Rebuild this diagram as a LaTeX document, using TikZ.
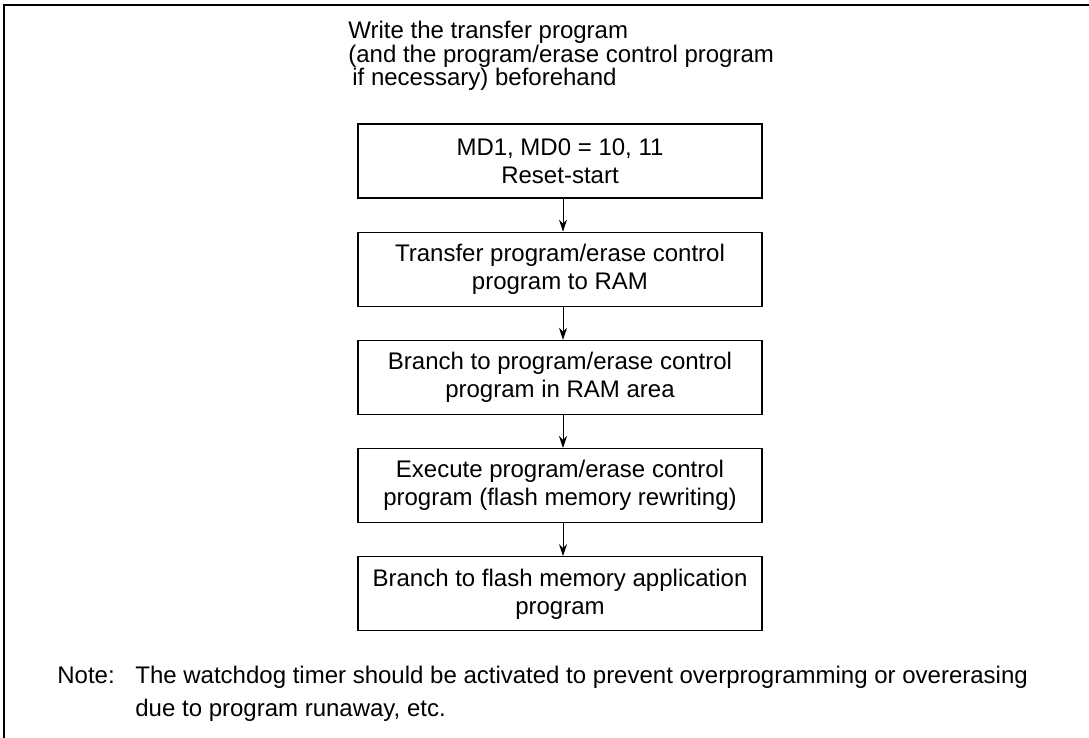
\documentclass[tikz,border=0pt]{standalone}
\usepackage{fontspec}
\setmainfont{Liberation Sans}
\usetikzlibrary{arrows.meta, positioning}

\begin{document}
\begin{tikzpicture}[
    x=0.5pt, y=-0.5pt,
    >={Stealth[length=6pt, width=4pt]},
    arr/.style={->, line width=0.5pt},
    stepbox/.style={draw, line width=0.6pt, minimum width=202pt, minimum height=37pt, inner sep=2pt, align=center, font=\fontsize{12}{14}\selectfont},
    txt/.style={inner sep=0pt, align=left, font=\fontsize{12}{11.75}\selectfont},
]
\useasboundingbox (0,0) rectangle (1089,738);
% === Frame ===
\draw[line width=1pt] (4,760) -- (4,5) -- (1100,5);
% === Header ===
\node[txt, anchor=north west] (head) at (348,21) {Write the transfer program\\(and the program/erase control program\\\hspace{2pt}if necessary) beforehand};
% === Steps ===
\node[stepbox] (reset) at (560,161) {MD1, MD0 = 10, 11\\Reset-start};
\node[stepbox, below=16.5pt of reset] (copy) {Transfer program/erase control\\program to RAM};
\node[stepbox, below=16.5pt of copy] (jump) {Branch to program/erase control\\program in RAM area};
\node[stepbox, below=16.5pt of jump] (exec) {Execute program/erase control\\program (flash memory rewriting)};
\node[stepbox, below=16.5pt of exec] (app) {Branch to flash memory application\\program};
\draw[arr] ([xshift=1.5pt]reset.south) -- ([xshift=1.5pt]copy.north);
\draw[arr] ([xshift=1.5pt]copy.south) -- ([xshift=1.5pt]jump.north);
\draw[arr] ([xshift=1.5pt]jump.south) -- ([xshift=1.5pt]exec.north);
\draw[arr] ([xshift=1.5pt]exec.south) -- ([xshift=1.5pt]app.north);
% === Note ===
\node[txt, anchor=base west] (notetag) at (57,683) {Note:};
\node[txt, anchor=base west] (note1) at (135,683) {The watchdog timer should be activated to prevent overprogramming or overerasing};
\node[txt, anchor=base west] (note2) at (135,716) {due to program runaway, etc.};
\end{tikzpicture}
\end{document}
